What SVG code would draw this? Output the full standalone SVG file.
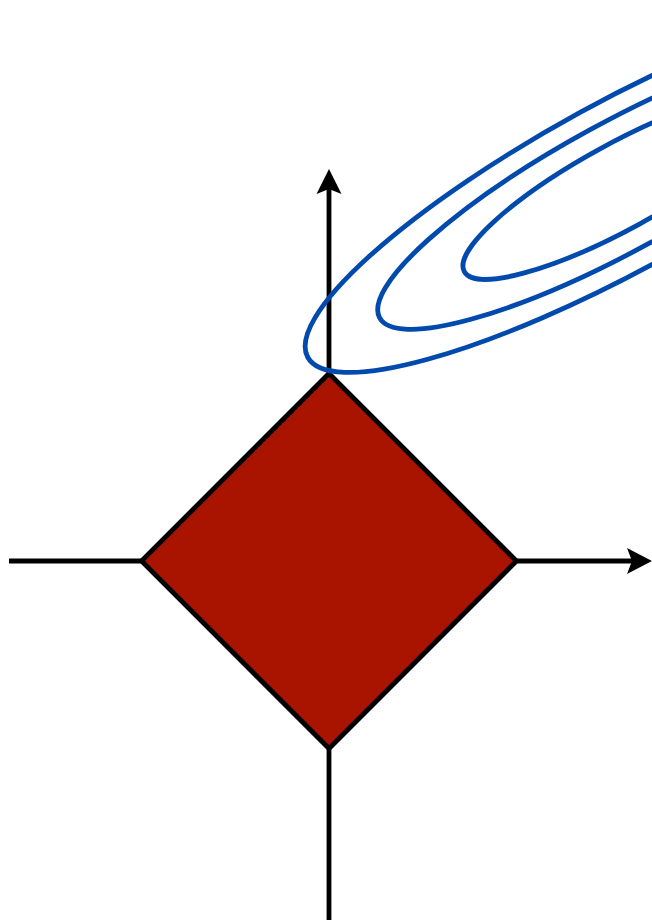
<svg xmlns="http://www.w3.org/2000/svg" width="652" height="923" viewBox="0 0 652 923">
<style>
.ax{stroke:#000;stroke-width:4.8;fill:none}
.ah{fill:#000}
.el{fill:none;stroke:#004AAD;stroke-width:4.8}
</style>
<rect width="652" height="923" fill="#fff"/>
<g id="axes">
<line class="ax" x1="9" y1="561" x2="632" y2="561"/>
<line class="ax" x1="329" y1="920" x2="329" y2="188"/>
<path class="ah" d="M652,561 L627,548 L632,561 L627,574 Z"/>
<path class="ah" d="M329,169 L316.5,194 L329,189 L341.5,194 Z"/>
</g>
<g id="diamond">
<polygon points="329,373.5 516.5,561 329,748.5 141.5,561" fill="#A81400" stroke="#000" stroke-width="4.8" stroke-linejoin="miter"/>
</g>
<g id="contours" transform="translate(620,186.3) rotate(-28.7)">
<ellipse class="el" cx="0" cy="0" rx="356" ry="84"/>
<ellipse class="el" cx="0" cy="0" rx="274" ry="64"/>
<ellipse class="el" cx="0" cy="0" rx="177.5" ry="42.5"/>
</g>
</svg>
